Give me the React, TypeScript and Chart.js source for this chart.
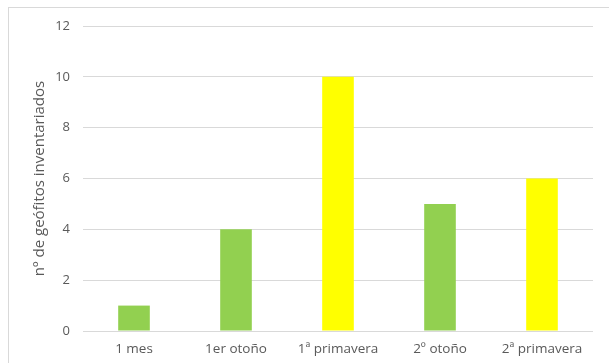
import React, { useEffect, useRef } from "react";
import { Chart, registerables } from "chart.js";

Chart.register(...registerables);

const categories = ["1 mes", "1er otoño", "1ª primavera", "2º otoño", "2ª primavera"];
const values = [1, 4, 10, 5, 6];
const barColors = ["#92D050", "#92D050", "#FFFF00", "#92D050", "#FFFF00"];
const yTicks = [0, 2, 4, 6, 8, 10, 12];
const yTitle = "nº de geófitos inventariados";

const FONT = "'Open Sans', 'Liberation Sans', sans-serif";

export default function App() {
  const ref = useRef<HTMLCanvasElement | null>(null);

  useEffect(() => {
    document.body.style.margin = "0";
    document.body.style.overflow = "hidden";
    const canvas = ref.current;
    if (!canvas) return;
    const chart = new Chart(canvas, {
      type: "bar",
      data: {
        labels: categories,
        datasets: [
          {
            data: values,
            backgroundColor: barColors,
            borderWidth: 0,
            categoryPercentage: 1,
            barPercentage: 0.31,
          },
        ],
      },
      options: {
        animation: false,
        responsive: false,
        devicePixelRatio: 1,
        layout: { padding: { left: 0, top: 26, right: 16, bottom: 0 } },
        plugins: { legend: { display: false }, tooltip: { enabled: false } },
        scales: {
          x: {
            grid: { display: false, drawTicks: false },
            border: { display: false },
            ticks: {
              color: "#595959",
              font: { family: FONT, size: 13.5 },
              padding: 10,
              maxRotation: 0,
            },
            afterFit: (s: any) => {
              s.height = 32;
            },
          },
          y: {
            min: 0,
            max: 12,
            afterBuildTicks: (s: any) => {
              s.ticks = yTicks.map((v) => ({ value: v }));
            },
            grid: { color: "#D9D9D9", lineWidth: 1, drawTicks: false },
            border: { display: false },
            ticks: {
              color: "#595959",
              font: { family: FONT, size: 13 },
              padding: 13,
            },
            title: {
              display: true,
              text: yTitle,
              color: "#595959",
              font: { family: FONT, size: 15, weight: "normal" },
              padding: { top: 31, bottom: 0 },
            },
            afterFit: (s: any) => {
              s.width = 83;
            },
          },
        },
      },
    });
    return () => chart.destroy();
  }, []);

  return (
    <div
      style={{
        position: "fixed",
        left: 0,
        top: 0,
        width: 609,
        height: 363,
        overflow: "hidden",
        background: "#fff",
      }}
    >
      <canvas ref={ref} width={609} height={363} style={{ display: "block" }} />
      <div
        style={{
          position: "absolute",
          left: 8,
          top: 7,
          width: 640,
          height: 400,
          border: "1px solid #D9D9D9",
          pointerEvents: "none",
        }}
      />
    </div>
  );
}
